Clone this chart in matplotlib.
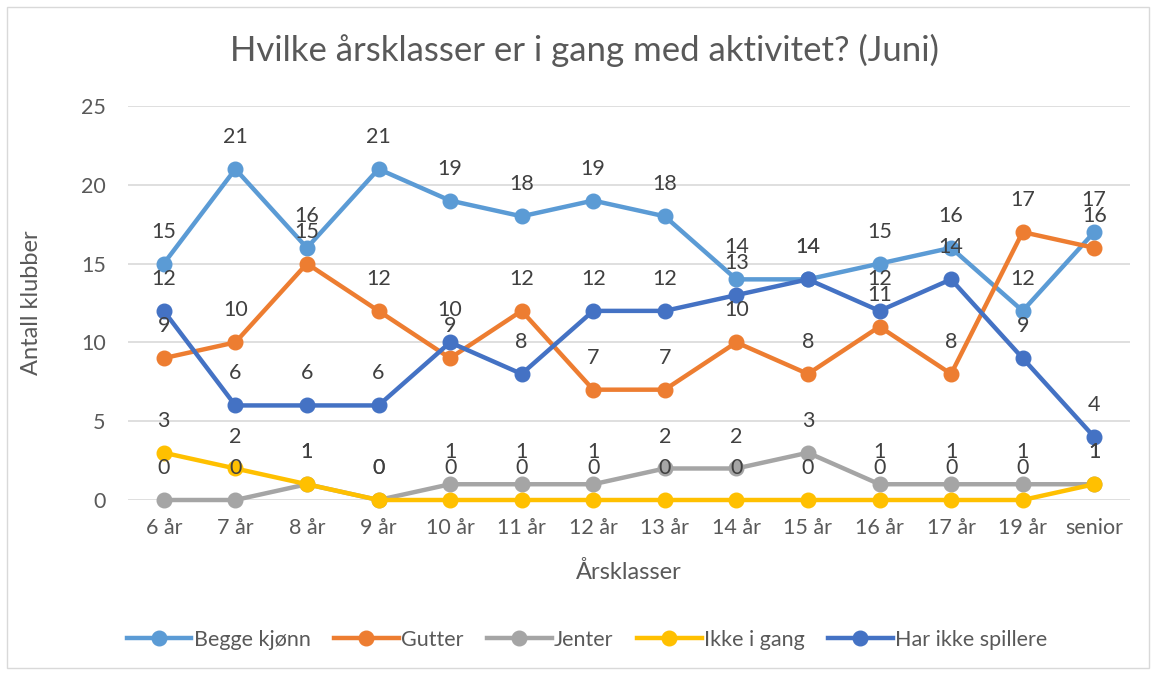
import matplotlib.pyplot as plt
from matplotlib.patches import Rectangle

# data
klasser = ["6 år", "7 år", "8 år", "9 år", "10 år", "11 år", "12 år", "13 år",
           "14 år", "15 år", "16 år", "17 år", "19 år", "senior"]
begge = [15, 21, 16, 21, 19, 18, 19, 18, 14, 14, 15, 16, 12, 17]
gutter = [9, 10, 15, 12, 9, 12, 7, 7, 10, 8, 11, 8, 17, 16]
jenter = [0, 0, 1, 0, 1, 1, 1, 2, 2, 3, 1, 1, 1, 1]
ikke_i_gang = [3, 2, 1, 0, 0, 0, 0, 0, 0, 0, 0, 0, 0, 1]
har_ikke = [12, 6, 6, 6, 10, 8, 12, 12, 13, 14, 12, 14, 9, 4]

serier = [
    ("Begge kjønn", begge, "#5B9BD5"),
    ("Gutter", gutter, "#ED7D31"),
    ("Jenter", jenter, "#A5A5A5"),
    ("Ikke i gang", ikke_i_gang, "#FFC000"),
    ("Har ikke spillere", har_ikke, "#4472C4"),
]

plt.rcParams['font.family'] = ['Lato', 'DejaVu Sans']
tekst = "#595959"

fig = plt.figure(figsize=(11.56, 6.75), dpi=100)
ax = fig.add_axes([128 / 1156, 1 - 500 / 675, 1002 / 1156, 394 / 675])

x = list(range(len(klasser)))
for i, (navn, verdier, farge) in enumerate(serier):
    ax.plot(x, verdier, color=farge, lw=3.2, marker="o", ms=10.5,
            label=navn, zorder=3 + i, clip_on=False)

# data labels on top of all lines
for navn, verdier, farge in serier:
    for xi, v in zip(x, verdier):
        ax.annotate(str(v), (xi, v), xytext=(0, 23), textcoords="offset points",
                    ha="center", va="center", fontsize=15.5, color="#404040",
                    zorder=20, annotation_clip=False)

ax.set_xlim(-0.5, len(klasser) - 0.5)
ax.set_ylim(0, 25)
ax.set_yticks([0, 5, 10, 15, 20, 25])
ax.set_xticks(x)
ax.set_xticklabels(klasser)
ax.grid(axis="y", color="#D9D9D9", lw=1.2)
ax.set_axisbelow(True)
for s in ax.spines.values():
    s.set_visible(False)
ax.tick_params(axis="both", length=0, labelsize=15.5, colors=tekst)
ax.tick_params(axis="y", pad=16)
ax.tick_params(axis="x", pad=13)

fig.text(584 / 1156, 1 - 50 / 675, "Hvilke årsklasser er i gang med aktivitet? (Juni)",
         ha="center", va="center", fontsize=25, color=tekst)
fig.text(32 / 1156, 1 - 303 / 675, "Antall klubber", rotation=90,
         ha="center", va="center", fontsize=17, color=tekst)
fig.text(629 / 1156, 1 - 572 / 675, "Årsklasser",
         ha="center", va="center", fontsize=17, color=tekst)

fig.legend(loc="center", bbox_to_anchor=(587 / 1156, 1 - 640 / 675), ncol=5,
           frameon=False, fontsize=15.5, handlelength=3.0, columnspacing=1.1,
           handletextpad=0.1, labelcolor=tekst)

fig.patches.append(Rectangle((7 / 1156, 7 / 675), 1142 / 1156, 661 / 675,
                             transform=fig.transFigure, fill=False,
                             edgecolor="#D9D9D9", lw=1))

fig.savefig("out.png", dpi=100)
